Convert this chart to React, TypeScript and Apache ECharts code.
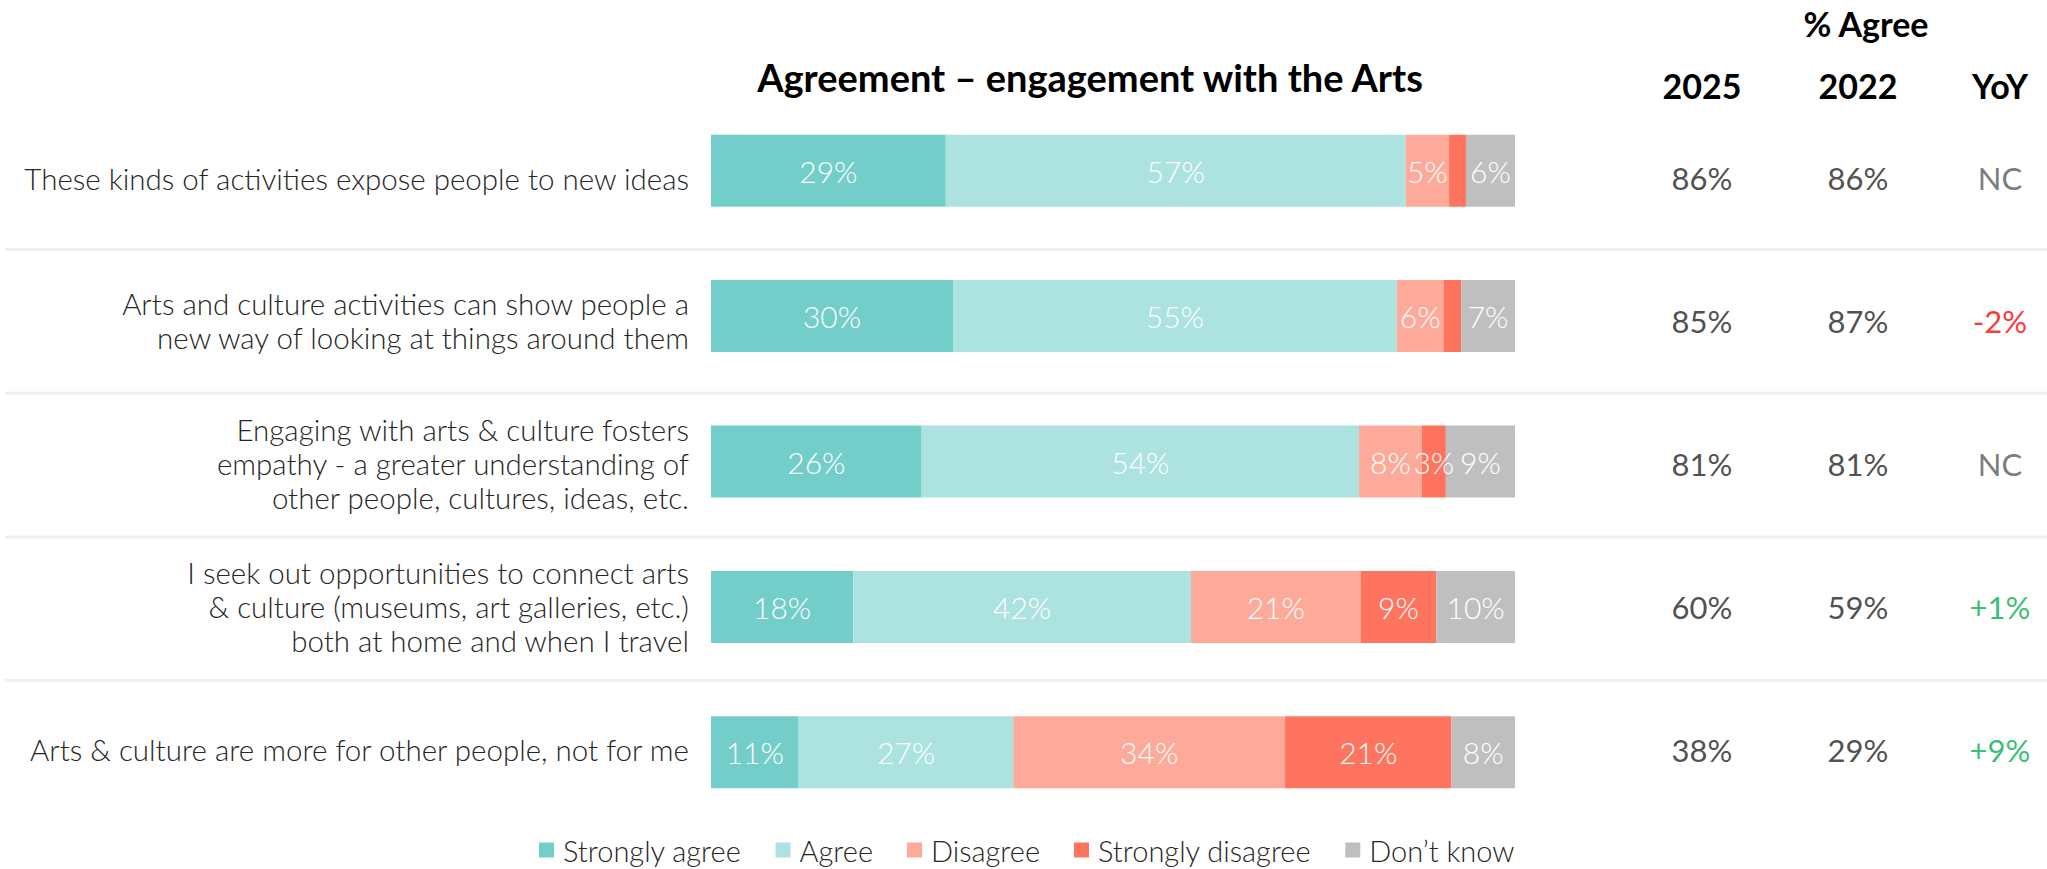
import React, { useEffect, useRef } from "react";
import * as echarts from "echarts";

const categories = [
  "These kinds of activities expose people to new ideas",
  "Arts and culture activities can show people a\nnew way of looking at things around them",
  "Engaging with arts & culture fosters\nempathy - a greater understanding of\nother people, cultures, ideas, etc.",
  "I seek out opportunities to connect arts\n& culture (museums, art galleries, etc.)\nboth at home and when I travel",
  "Arts & culture are more for other people, not for me",
];
const seriesNames = ["Strongly agree", "Agree", "Disagree", "Strongly disagree", "Don\u2019t know"];
const stronglyAgree = [29.2, 30.1, 26.2, 17.7, 10.9];
const agree = [57.2, 55.2, 54.4, 42.0, 26.7];
const disagree = [5.4, 5.8, 7.8, 21.1, 33.8];
const stronglyDisagree = [2.1, 2.2, 3.0, 9.4, 20.7];
const dontKnow = [6.1, 6.7, 8.6, 9.8, 7.9];
const agree2025 = ["86%", "85%", "81%", "60%", "38%"];
const agree2022 = ["86%", "87%", "81%", "59%", "29%"];
const yoy = ["NC", "-2%", "NC", "+1%", "+9%"];
const columnHeaders = ["2025", "2022", "YoY"];

const colors = ["#73CEC9", "#ACE2DF", "#FDAA9B", "#FF745E", "#BFBFBF"];
const FONT = "Lato, 'Noto Sans', sans-serif";

export default function App() {
  const ref = useRef<HTMLDivElement>(null);
  useEffect(() => {
    if (!ref.current) return;
    const chart = echarts.init(ref.current, undefined, { renderer: "svg" });
    const values = [stronglyAgree, agree, disagree, stronglyDisagree, dontKnow];
    const barSeries = values.map((arr, si) => ({
      name: seriesNames[si],
      type: "bar",
      stack: "total",
      barWidth: 72,
      xAxisIndex: 0,
      yAxisIndex: 0,
      itemStyle: { color: colors[si] },
      label: {
        show: true,
        position: "inside",
        color: "#ffffff",
        fontSize: 30,
        fontWeight: 300,
        fontFamily: FONT,
        formatter: (p: any) => (Math.round(p.value) >= 3 ? Math.round(p.value) + "%" : ""),
      },
      data: arr,
    }));
    // table grid starts at x = 711; column centres at 1702, 1858, 2000
    const tableLeft = 711;
    const colX = [1702 - tableLeft, 1858 - tableLeft, 2000 - tableLeft];
    const cols = [agree2025, agree2022, yoy];
    const colColor = (s: string, ci: number) => {
      if (ci < 2) return "#222222";
      if (s.startsWith("+")) return "#00B050";
      if (s.startsWith("-")) return "#FF0000";
      return "#595959";
    };
    const tableSeries = cols.map((arr, ci) => ({
      type: "scatter",
      xAxisIndex: 1,
      yAxisIndex: 1,
      symbolSize: 2,
      itemStyle: { color: "rgba(255,255,255,0)" },
      silent: true,
      label: {
        show: true,
        position: "inside",
        fontSize: 31,
        fontWeight: 400,
        fontFamily: FONT,
        formatter: (p: any) => arr[p.dataIndex],
      },
      data: arr.map((s, i) => ({
        value: [colX[ci], i],
        label: { color: colColor(s, ci) },
      })),
    }));
    const option: any = {
      animation: false,
      backgroundColor: "#ffffff",
      legend: {
        data: seriesNames,
        left: 534,
        top: 830,
        padding: 5,
        icon: "rect",
        itemWidth: 15,
        itemHeight: 15,
        itemGap: 34,
        textStyle: {
          fontSize: 29,
          lineHeight: 30,
          fontFamily: FONT,
          fontWeight: 300,
          color: "#262626",
          padding: [0, 0, 0, 4],
        },
      },
      grid: [
        { left: 711, right: 532, top: 98, height: 727, containLabel: false },
        { left: tableLeft, right: 0, top: 106.6, height: 714.5, containLabel: false },
      ],
      xAxis: [
        { type: "value", min: 0, max: 100, show: false, gridIndex: 0 },
        { type: "value", min: 0, max: 2047 - tableLeft, show: false, gridIndex: 1 },
      ],
      yAxis: [
        {
          type: "category",
          data: categories,
          inverse: true,
          gridIndex: 0,
          show: false,
        },
        {
          type: "category",
          data: categories,
          inverse: true,
          gridIndex: 1,
          position: "left",
          axisLine: { show: false },
          axisTick: { show: false },
          splitLine: { show: false },
          axisLabel: {
            margin: 22,
            align: "right",
            fontSize: 29.5,
            lineHeight: 34,
            fontWeight: 300,
            fontFamily: FONT,
            color: "#262626",
          },
        },
      ],
      series: [...barSeries, ...tableSeries],
    };
    chart.setOption(option);

    const graphics: any[] = [];
    for (let k = 0; k < categories.length - 1; k++) {
      const a = chart.convertToPixel({ yAxisIndex: 1 }, k) as number;
      const b = chart.convertToPixel({ yAxisIndex: 1 }, k + 1) as number;
      const y = (a + b) / 2 + k * 0.8;
      graphics.push({
        type: "line",
        z: -1,
        shape: { x1: 5, y1: y, x2: 2047, y2: y },
        style: { stroke: "#F0F0F0", lineWidth: 3 },
      });
    }
    graphics.push({
      type: "text",
      x: 1090,
      y: 77,
      style: {
        text: "Agreement \u2013 engagement with the Arts",
        fontSize: 38,
        fontWeight: "bold",
        fontFamily: FONT,
        fill: "#000000",
        textAlign: "center",
        textVerticalAlign: "middle",
      },
    });
    graphics.push({
      type: "text",
      x: 1866,
      y: 23,
      style: {
        text: "% Agree",
        fontSize: 34,
        fontWeight: "bold",
        fontFamily: FONT,
        fill: "#000000",
        textAlign: "center",
        textVerticalAlign: "middle",
      },
    });
    columnHeaders.forEach((h, ci) => {
      graphics.push({
        type: "text",
        x: tableLeft + colX[ci],
        y: 85,
        style: {
          text: h,
          fontSize: 34,
          fontWeight: "bold",
          fontFamily: FONT,
          fill: "#000000",
          textAlign: "center",
          textVerticalAlign: "middle",
        },
      });
    });
    chart.setOption({ graphic: graphics });

    return () => chart.dispose();
  }, []);
  return (
    <div
      ref={ref}
      style={{ position: "fixed", left: 0, top: 0, width: 2047, height: 869, background: "#fff" }}
    />
  );
}
